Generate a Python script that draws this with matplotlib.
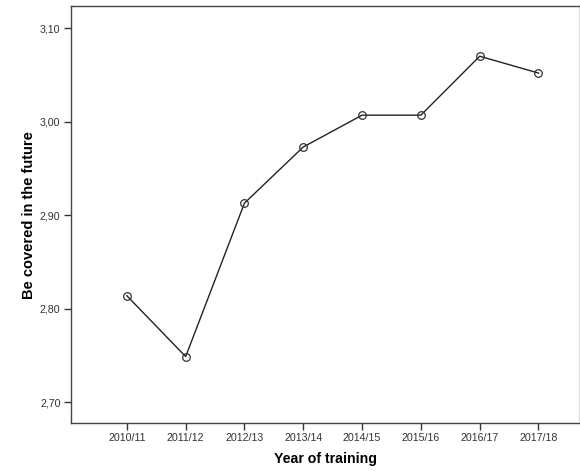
import matplotlib
matplotlib.use("Agg")
import matplotlib.pyplot as plt

plt.rcParams['font.family'] = ['Liberation Sans', 'DejaVu Sans']

years = ['2010/11', '2011/12', '2012/13', '2013/14', '2014/15', '2015/16', '2016/17', '2017/18']
values = [2.814, 2.749, 2.913, 2.973, 3.007, 3.007, 3.070, 3.052]

fig = plt.figure(figsize=(5.8, 4.71), dpi=100)
ax = fig.add_axes([0.1224, 0.1019, 0.877, 0.885])

x = list(range(len(years)))
ax.plot(x, values, color='#222222', linewidth=1.0, marker='o', markersize=5.5,
        markerfacecolor='none', markeredgecolor='#333333', markeredgewidth=0.9)

ax.set_xlim(-0.95, 7.7)
ax.set_ylim(2.678, 3.1235)
ax.set_xticks(x)
ax.set_xticklabels(years)
ax.set_yticks([2.70, 2.80, 2.90, 3.00, 3.10])
ax.set_yticklabels(['2,70', '2,80', '2,90', '3,00', '3,10'])
ax.tick_params(labelsize=7.7, length=5, width=1, pad=2.5, color='#333333', labelcolor='#333333')

for s in ax.spines.values():
    s.set_color('#444444')
    s.set_linewidth(1)

ax.set_xlabel('Year of training', fontsize=10.2, fontweight='bold', labelpad=6)
ax.set_ylabel('Be covered in the future', fontsize=10.5, fontweight='bold', labelpad=2.5)

fig.savefig('out.png', dpi=100)
